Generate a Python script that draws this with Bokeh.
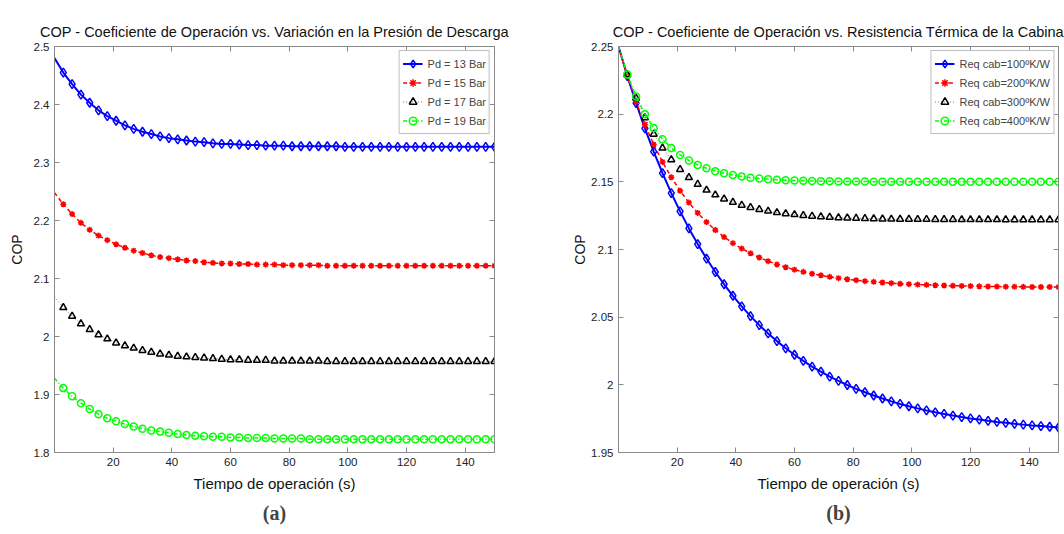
from bokeh.plotting import figure
from bokeh.layouts import row
from bokeh.models import (Range1d, FixedTicker, LinearAxis, CustomJSTickFormatter,
                          Title, ColumnDataSource)
from bokeh.embed import file_html
from bokeh.resources import INLINE

# ---------------- data ----------------
t = [0, 3, 6, 9, 12, 15, 18, 21, 24, 27, 30, 33, 36, 39, 42, 45, 48, 51, 54, 57,
     60, 63, 66, 69, 72, 75, 78, 81, 84, 87, 90, 93, 96, 99, 102, 105, 108, 111,
     114, 117, 120, 123, 126, 129, 132, 135, 138, 141, 144, 147, 150]

pd13 = [2.480, 2.455, 2.435, 2.417, 2.403, 2.390, 2.380, 2.372, 2.364, 2.358, 2.353,
        2.349, 2.345, 2.342, 2.340, 2.338, 2.336, 2.335, 2.333, 2.332, 2.332, 2.331,
        2.330, 2.330, 2.329, 2.329, 2.329, 2.328, 2.328, 2.328, 2.328, 2.328, 2.328] + [2.327] * 18
pd15 = [2.248, 2.228, 2.211, 2.196, 2.184, 2.174, 2.166, 2.159, 2.153, 2.148, 2.144,
        2.140, 2.137, 2.135, 2.133, 2.131, 2.130, 2.128, 2.127, 2.126, 2.126, 2.125,
        2.125, 2.124, 2.124, 2.124, 2.123, 2.123, 2.123, 2.123, 2.123] + [2.122] * 20
pd17 = [2.068, 2.050, 2.035, 2.022, 2.012, 2.003, 1.996, 1.989, 1.984, 1.980, 1.976,
        1.973, 1.970, 1.968, 1.966, 1.965, 1.964, 1.963, 1.962, 1.961, 1.960, 1.960,
        1.959, 1.959, 1.959, 1.958, 1.958, 1.958, 1.958, 1.958, 1.958] + [1.957] * 20
pd19 = [1.928, 1.911, 1.897, 1.885, 1.875, 1.866, 1.859, 1.854, 1.849, 1.845, 1.841,
        1.838, 1.836, 1.834, 1.832, 1.830, 1.829, 1.828, 1.827, 1.827, 1.826, 1.826,
        1.825, 1.825, 1.825, 1.824, 1.824, 1.824, 1.824] + [1.823] * 22

r100 = [2.2500, 2.2282, 2.2081, 2.1895, 2.1723, 2.1564, 2.1417, 2.1282, 2.1156, 2.1040,
        2.0933, 2.0834, 2.0743, 2.0658, 2.0580, 2.0508, 2.0441, 2.0380, 2.0323, 2.0270,
        2.0222, 2.0177, 2.0135, 2.0097, 2.0061, 2.0029, 1.9999, 1.9970, 1.9945, 1.9921,
        1.9899, 1.9878, 1.9859, 1.9842, 1.9826, 1.9811, 1.9797, 1.9785, 1.9773, 1.9762,
        1.9752, 1.9743, 1.9734, 1.9726, 1.9719, 1.9712, 1.9706, 1.9700, 1.9695, 1.9690,
        1.9685]
r200 = [2.2500, 2.2282, 2.2091, 2.1924, 2.1776, 2.1647, 2.1534, 2.1434, 2.1347, 2.1270,
        2.1203, 2.1144, 2.1092, 2.1047, 2.1007, 2.0972, 2.0941, 2.0914, 2.0890, 2.0869,
        2.0851, 2.0835, 2.0821, 2.0809, 2.0798, 2.0788, 2.0780, 2.0773, 2.0766, 2.0761,
        2.0756, 2.0751, 2.0747, 2.0744, 2.0741, 2.0739, 2.0736, 2.0734, 2.0732, 2.0731,
        2.0730, 2.0728, 2.0727, 2.0726, 2.0725, 2.0725, 2.0724, 2.0723, 2.0723, 2.0723,
        2.0722]
r300 = [2.2500, 2.2293, 2.2119, 2.1974, 2.1852, 2.1750, 2.1664, 2.1592, 2.1532, 2.1482,
        2.1439, 2.1404, 2.1374, 2.1349, 2.1328, 2.1311, 2.1296, 2.1284, 2.1273, 2.1265,
        2.1258, 2.1251, 2.1246, 2.1242, 2.1239, 2.1235, 2.1233, 2.1231, 2.1229, 2.1228,
        2.1226, 2.1225, 2.1224, 2.1224, 2.1223, 2.1223, 2.1222, 2.1222, 2.1222, 2.1221,
        2.1221, 2.1221, 2.1221, 2.1221] + [2.1220] * 7
r400 = [2.2500, 2.2294, 2.2130, 2.2000, 2.1897, 2.1815, 2.1750, 2.1699, 2.1658, 2.1625,
        2.1600, 2.1579, 2.1563, 2.1550, 2.1540, 2.1531, 2.1525, 2.1520, 2.1516, 2.1512,
        2.1510, 2.1508, 2.1506, 2.1505, 2.1504, 2.1503, 2.1502, 2.1502, 2.1502, 2.1501,
        2.1501] + [2.1500] * 20

labels_a = ["Pd = 13 Bar", "Pd = 15 Bar", "Pd = 17 Bar", "Pd = 19 Bar"]
labels_b = ["Req cab=100ºK/W", "Req cab=200ºK/W", "Req cab=300ºK/W", "Req cab=400ºK/W"]
x_ticks = [20, 40, 60, 80, 100, 120, 140]
y_ticks_a = [1.8, 1.9, 2.0, 2.1, 2.2, 2.3, 2.4, 2.5]
y_ticks_b = [1.95, 2.0, 2.05, 2.1, 2.15, 2.2, 2.25]

title_a = "COP - Coeficiente de Operación vs. Variación en la Presión de Descarga"
title_b = "COP - Coeficiente de Operación vs. Resistencia Térmica de la Cabina"

FONT = "Liberation Sans"
AXC = "#8a8a8a"

styles = [
    dict(color="#0000ff", dash="solid", lw=2.0, marker="diamond", msize=9, lcolor="#0000ff"),
    dict(color="#ff0000", dash="4 3", lw=1.5, marker="asterisk", msize=6, lcolor="#ff0000"),
    dict(color="#000000", dash="1 2", lw=1.0, marker="triangle", msize=7, lcolor="#777777"),
    dict(color="#00ff00", dash="4 2 1 2", lw=1.5, marker="circle", msize=7, lcolor="#00ff00"),
]

fmt = CustomJSTickFormatter(code="return Number(tick.toFixed(2)).toString();")


def style_axis(ax, ticks, show_labels=True):
    ax.ticker = FixedTicker(ticks=ticks)
    ax.formatter = fmt
    ax.axis_line_color = AXC
    ax.major_tick_line_color = AXC
    ax.major_tick_in = 5
    ax.major_tick_out = 0
    ax.minor_tick_line_color = None
    if show_labels:
        ax.major_label_text_font = FONT
        ax.major_label_text_font_size = "11.5px"
        ax.major_label_text_color = "#222222"
        ax.major_label_standoff = 5
    else:
        ax.major_label_text_font_size = "0px"
        ax.major_label_standoff = 0
        ax.major_label_text_color = None


def panel(title, yrange, yticks, series, labels, sub, width, mbl, mbr, ylab_standoff):
    p = figure(width=width, height=534, x_range=Range1d(0, 150),
               y_range=Range1d(*yrange), output_backend="svg", toolbar_location=None,
               min_border_left=mbl, min_border_right=mbr, min_border_top=46,
               min_border_bottom=82)
    p.title.text = title
    p.title.align = "center"
    p.title.vertical_align = "top"
    p.title.text_line_height = 1.5
    p.title.text_font = FONT
    p.title.text_font_size = "14.5px"
    p.title.text_font_style = "normal"
    p.title.text_color = "#111111"
    p.grid.visible = False
    p.outline_line_color = AXC
    p.background_fill_color = "white"
    p.border_fill_color = "white"

    style_axis(p.xaxis[0], x_ticks)
    style_axis(p.yaxis[0], yticks)
    p.xaxis.axis_label = "Tiempo de operación (s)"
    p.yaxis.axis_label = "COP"
    for ax in (p.xaxis[0], p.yaxis[0]):
        ax.axis_label_text_font = FONT
        ax.axis_label_text_font_style = "normal"
        ax.axis_label_text_color = "#111111"
    p.xaxis.axis_label_text_font_size = "15px"
    p.yaxis.axis_label_text_font_size = "14px"
    p.xaxis.axis_label_standoff = 6
    p.yaxis.axis_label_standoff = ylab_standoff

    top = LinearAxis()
    style_axis(top, x_ticks, show_labels=False)
    p.add_layout(top, "above")
    right = LinearAxis()
    style_axis(right, yticks, show_labels=False)
    p.add_layout(right, "right")

    for ys, lab, st in zip(series, labels, styles):
        p.line(t, ys, line_color=st["lcolor"], line_width=st["lw"],
               line_dash=st["dash"], legend_label=lab)
        src = ColumnDataSource(dict(x=t[1:], y=ys[1:]))
        p.scatter("x", "y", source=src, marker=st["marker"], size=st["msize"],
                  line_color=st["color"], fill_color=None, line_width=1.5,
                  legend_label=lab)

    lg = p.legend[0]
    lg.location = "top_right"
    lg.margin = 4
    lg.padding = 3
    lg.spacing = 0
    lg.glyph_width = 20
    lg.glyph_height = 19
    lg.label_height = 19
    lg.label_standoff = 5
    lg.label_text_font = FONT
    lg.label_text_font_size = "11px"
    lg.border_line_color = "#808080"
    lg.background_fill_alpha = 1.0

    st = Title(text=sub, align="center", text_font="Liberation Serif",
               text_font_style="bold", text_font_size="20px",
               vertical_align="bottom", text_line_height=1.4)
    p.add_layout(st, "below")
    return p


pa = panel(title_a, (1.8, 2.5), y_ticks_a, [pd13, pd15, pd17, pd19], labels_a, "(a)",
           560, 54, 66, 6)
pb = panel(title_b, (1.95, 2.25), y_ticks_b, [r100, r200, r300, r400], labels_b, "(b)",
           504, 58, 6, 0)

layout = row(pa, pb)
open("out.html", "w").write(file_html(layout, INLINE))
